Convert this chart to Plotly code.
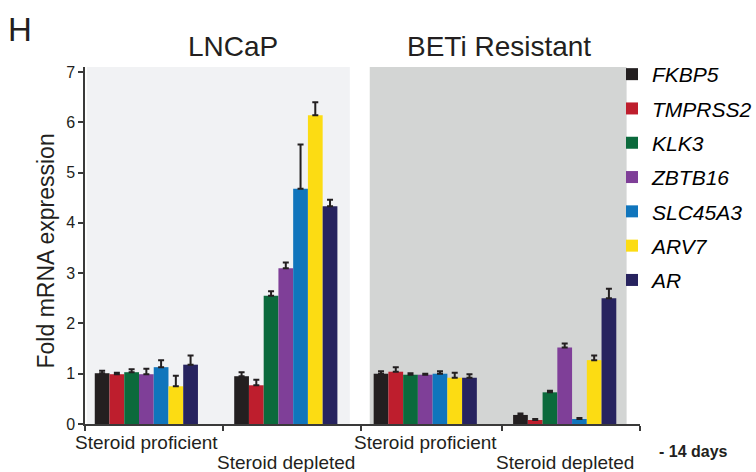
import plotly.graph_objects as go

genes = ["FKBP5", "TMPRSS2", "KLK3", "ZBTB16", "SLC45A3", "ARV7", "AR"]
colors = ["#231f20", "#be1e2d", "#0b6a3c", "#7f3f98", "#1075bc", "#fcdc13", "#27235f"]
conditions = ["Steroid proficient", "Steroid depleted", "Steroid proficient", "Steroid depleted"]
panels = ["LNCaP", "BETi Resistant"]

# values per gene: [LNCaP prof, LNCaP depl, BETi prof, BETi depl]
values = {
    "FKBP5":   [1.01, 0.95, 1.00, 0.18],
    "TMPRSS2": [0.99, 0.77, 1.04, 0.08],
    "KLK3":    [1.03, 2.55, 0.98, 0.63],
    "ZBTB16":  [0.99, 3.10, 0.98, 1.52],
    "SLC45A3": [1.13, 4.68, 1.00, 0.10],
    "ARV7":    [0.75, 6.14, 0.92, 1.27],
    "AR":      [1.18, 4.33, 0.92, 2.50],
}
errors = {
    "FKBP5":   [0.05, 0.08, 0.05, 0.03],
    "TMPRSS2": [0.03, 0.11, 0.09, 0.02],
    "KLK3":    [0.06, 0.09, 0.03, 0.03],
    "ZBTB16":  [0.11, 0.11, 0.02, 0.08],
    "SLC45A3": [0.14, 0.88, 0.05, 0.02],
    "ARV7":    [0.21, 0.26, 0.10, 0.09],
    "AR":      [0.18, 0.13, 0.07, 0.19],
}
y_ticks = [0, 1, 2, 3, 4, 5, 6, 7]

FONT = "Arial, Liberation Sans, Helvetica, sans-serif"
INK = "#231f20"
xpos = list(range(len(conditions)))

fig = go.Figure()
for g, c in zip(genes, colors):
    fig.add_trace(go.Bar(
        x=xpos, y=values[g], name=g, marker=dict(color=c, line=dict(width=0)),
        legendgroup=g,
        error_y=dict(type="data", symmetric=False, array=errors[g],
                     arrayminus=[0] * len(xpos), color=INK, thickness=2, width=3),
    ))

# panel backgrounds
fig.add_shape(type="rect", xref="x", yref="y", x0=-0.427, x1=1.459, y0=0, y1=7.1,
              fillcolor="#f1f2f4", line=dict(width=0), layer="below")
fig.add_shape(type="rect", xref="x", yref="y", x0=1.602, x1=3.444, y0=0, y1=7.1,
              fillcolor="#d3d5d4", line=dict(width=0), layer="below")

# category labels (staggered)
for i, lab in enumerate(conditions):
    fig.add_annotation(x=i, y=0, xref="x", yref="paper", text=lab, showarrow=False,
                       yanchor="top", yshift=-6 if i % 2 == 0 else -26,
                       font=dict(family=FONT, size=19, color=INK))

# panel titles
for txt, xc in zip(panels, [0.62, 2.53]):
    fig.add_annotation(x=xc, y=1, xref="x", yref="paper", text=txt, showarrow=False,
                       yanchor="bottom", yshift=3, font=dict(family=FONT, size=28, color=INK))

fig.add_annotation(x=0, y=1, xref="paper", yref="paper", xshift=-79, yshift=38,
                   text="H", showarrow=False, xanchor="left", yanchor="middle",
                   font=dict(family=FONT, size=33, color=INK))
fig.add_annotation(x=1, y=0, xref="paper", yref="paper", xshift=17, yshift=-27,
                   text="<b>- 14 days</b>", showarrow=False, xanchor="left", yanchor="middle",
                   font=dict(family=FONT, size=16, color=INK))
fig.add_annotation(x=0, y=0.5, xref="paper", yref="paper", xshift=-40, yshift=-6,
                   text="Fold mRNA expression", showarrow=False, textangle=-90,
                   xanchor="center", yanchor="middle",
                   font=dict(family=FONT, size=23, color=INK))

fig.update_layout(
    width=756, height=472,
    margin=dict(l=85, r=116, t=67, b=48, autoexpand=False),
    paper_bgcolor="white", plot_bgcolor="rgba(0,0,0,0)",
    barmode="group", bargap=0.26, bargroupgap=0,
    font=dict(family=FONT, color=INK),
    showlegend=True,
    legend=dict(x=612 / 756, xanchor="left", y=1 - 54 / 472, yanchor="top",
                xref="container", yref="container",
                font=dict(family=FONT, size=21, color="black", style="italic"),
                tracegroupgap=4, itemwidth=30, bgcolor="rgba(0,0,0,0)"),
    xaxis=dict(range=[-0.44, 3.54], showgrid=False, zeroline=False,
               showline=True, linecolor="#3a3a3a", linewidth=1.5,
               tickvals=[], ticks="",
               minor=dict(tickmode="array", tickvals=[-0.437, 0.548, 1.54, 2.55, 3.537],
                          ticks="outside", ticklen=5, tickwidth=1.5, tickcolor="#3a3a3a",
                          showgrid=False)),
    yaxis=dict(range=[0, 7.1], tickvals=y_ticks, showgrid=False, zeroline=False,
               showline=True, linecolor="#3a3a3a", linewidth=1.5,
               ticks="outside", ticklen=5, tickwidth=1.5, tickcolor="#3a3a3a",
               tickfont=dict(family=FONT, size=16, color=INK)),
)

fig.write_html("out.html")
